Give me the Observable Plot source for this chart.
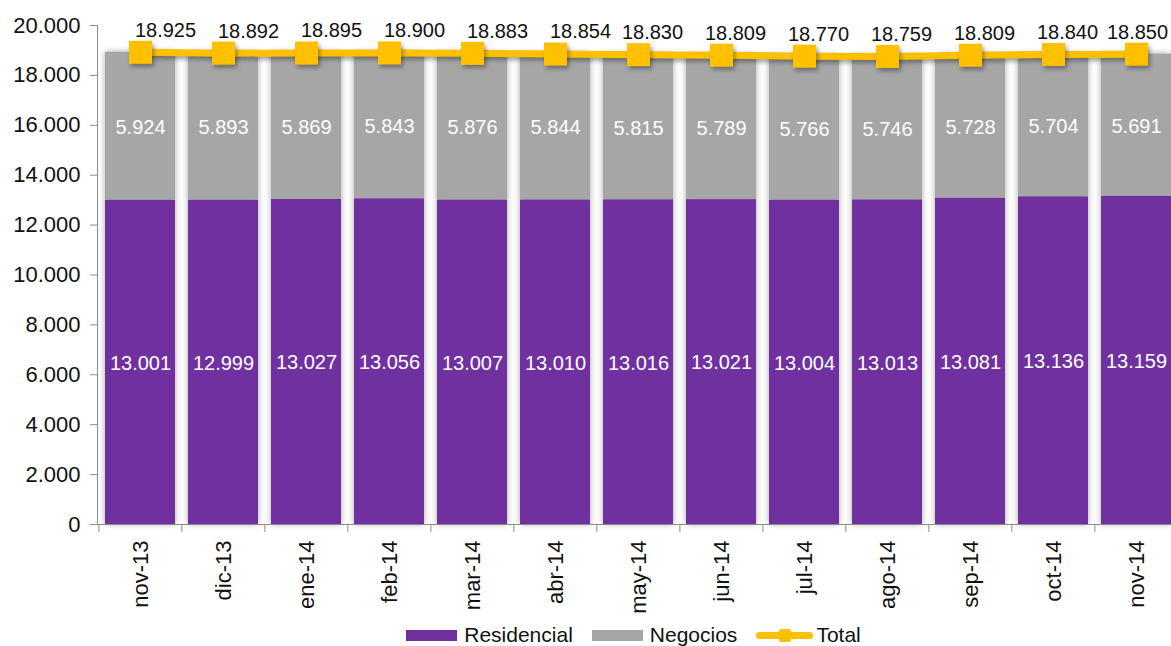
<!DOCTYPE html>
<html>
<head>
<meta charset="utf-8">
<script src="https://cdn.jsdelivr.net/npm/d3@7"></script>
<script src="https://cdn.jsdelivr.net/npm/@observablehq/plot@0.6"></script>
<style>
  html, body { margin: 0; padding: 0; background: #fff; overflow: hidden; }
  body { font-family: "Liberation Sans", Arial, sans-serif; }
  #legend { display: flex; justify-content: center; align-items: center; margin-left: 97px; width: 1073px; height: 40px; font-size: 21px; color: #111; }
  .item { display: flex; align-items: center; margin-right: 19px; }
  .item:last-child { margin-right: 0; }
  .sw { width: 51px; height: 11px; margin-right: 7px; }
  .line { position: relative; width: 57px; height: 7px; border-radius: 4px; background: #FFC000; margin-right: 3px; }
  .line::after { content: ""; position: absolute; left: 23px; top: -3px; width: 12px; height: 13px; background: #FFC000; border-radius: 2px; }
</style>
</head>
<body>
<div id="chart"></div>
<div id="legend">
  <div class="item"><div class="sw" style="background:#7030A0"></div>Residencial</div>
  <div class="item"><div class="sw" style="background:#A6A6A6"></div>Negocios</div>
  <div class="item"><div class="line"></div>Total</div>
</div>
<script>
const months = ["nov-13","dic-13","ene-14","feb-14","mar-14","abr-14","may-14","jun-14","jul-14","ago-14","sep-14","oct-14","nov-14"];
const residencial = [13001,12999,13027,13056,13007,13010,13016,13021,13004,13013,13081,13136,13159];
const negocios = [5924,5893,5869,5843,5876,5844,5815,5789,5766,5746,5728,5704,5691];
const total = [18925,18892,18895,18900,18883,18854,18830,18809,18770,18759,18809,18840,18850];
const series = ["Residencial","Negocios"];
const yTicks = [0,2000,4000,6000,8000,10000,12000,14000,16000,18000,20000];

const loc = d3.formatLocale({decimal: ",", thousands: ".", grouping: [3], currency: ["", ""]});
const fmt = loc.format(",d");

const stacked = [];
months.forEach((m, i) => {
  stacked.push({month: m, serie: "Residencial", value: residencial[i]});
  stacked.push({month: m, serie: "Negocios", value: negocios[i]});
});
const totals = months.map((m, i) => ({month: m, total: total[i], i}));
const n = months.length;

const width = 1171, height = 615;
const marginLeft = 97, marginRight = -8, marginTop = 25, marginBottom = 91;
const step = (width - marginRight - marginLeft) / n;
const gray = "#8c8c8c";

const totalLabel = (filter, dx) => Plot.text(totals, {filter, x: "month", y: "total", text: d => fmt(d.total), dy: -22, dx, fill: "#111", fontSize: 20});

const chart = Plot.plot({
  width, height, marginLeft, marginRight, marginTop, marginBottom,
  style: {fontFamily: "'Liberation Sans', Arial, sans-serif", fontSize: "22px", background: "#fff", color: "#111"},
  x: {domain: months, paddingInner: 0.16, paddingOuter: 0.08, label: null},
  y: {domain: [0, 20000], label: null},
  color: {domain: series, range: ["#7030A0", "#A6A6A6"]},
  marks: [
    Plot.barY(stacked, {x: "month", y: "value", fill: "serie", z: "serie"}),
    Plot.text(stacked, Plot.stackY({x: "month", y: "value", z: "serie", text: d => fmt(d.value), fill: "#fff", fontSize: 20, dy: 1})),
    Plot.frame({anchor: "left", stroke: gray}),
    Plot.frame({anchor: "bottom", stroke: gray}),
    Plot.axisY({ticks: yTicks, tickSize: 7, tickPadding: 10, tickFormat: fmt, stroke: gray, fill: "#111", fontSize: 22}),
    Plot.axisX({tickSize: 8, tickFormat: () => "", dx: -step / 2, stroke: gray}),
    Plot.axisX({tickSize: 0, tickPadding: 16, tickRotate: -90, fill: "#111", fontSize: 22}),
    Plot.line(totals, {x: "month", y: "total", stroke: "#FFC000", strokeWidth: 7}),
    Plot.dot(totals, {x: "month", y: "total", symbol: "square", r: 13, fill: "#FFC000", stroke: "none"}),
    totalLabel(d => d.i < 6, 25),
    totalLabel(d => d.i >= 6 && d.i < n - 1, 14),
    totalLabel(d => d.i === n - 1, 1)
  ]
});
chart.querySelectorAll('g[aria-label="bar"]').forEach(g => g.style.filter = "drop-shadow(0px 0px 3px rgba(0,0,0,0.35))");
chart.querySelectorAll('g[aria-label="dot"], g[aria-label="line"]').forEach(g => g.style.filter = "drop-shadow(2px 3px 2px rgba(0,0,0,0.35))");
document.getElementById("chart").appendChild(chart);
</script>
</body>
</html>
